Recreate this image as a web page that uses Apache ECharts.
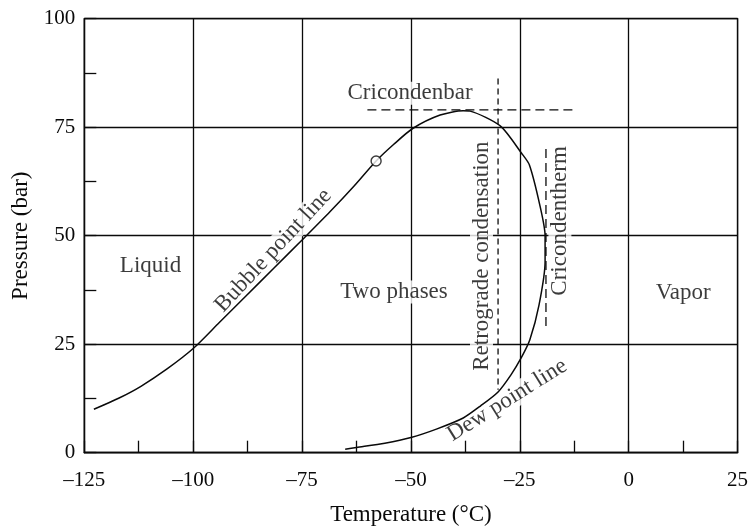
<!DOCTYPE html>
<html>
<head>
<meta charset="utf-8">
<script src="https://cdn.jsdelivr.net/npm/echarts@6/dist/echarts.min.js"></script>
<style>
  html, body { margin: 0; padding: 0; background: #fff; }
  #chart { width: 753px; height: 527px; }
</style>
</head>
<body>
<div id="chart"></div>
<script>
// phase envelope: bubble point line -> cricondenbar -> dew point line
const envelope = [
  [-122.8, 10], [-117, 12.6], [-112, 15.3], [-106, 19.3], [-100, 24], [-94, 30],
  [-88, 36], [-81.5, 42.5], [-75, 49], [-68.6, 55.5], [-63, 61.5], [-58, 67.2],
  [-54, 71], [-49.6, 74.7], [-43.3, 77.8], [-38, 78.8], [-36.4, 78.7], [-29.5, 75.3],
  [-24.6, 69], [-22.8, 66.3], [-20.4, 57], [-19.2, 50], [-19.2, 44], [-20.6, 34],
  [-22.7, 26], [-24.6, 22], [-27, 18], [-30, 14], [-34, 10.8], [-38, 8],
  [-44, 5.5], [-50, 3.5], [-56, 2.2], [-62.5, 1.2], [-65.1, 0.8]
];
const criticalPoint = [[-58, 67.2]];
const cricondenbar = [[-60, 79], [-12, 79]];
const retrograde = [[-30, 86.2], [-30, 14.5]];
const cricondentherm = [[-19, 70], [-19, 29]];

const xTicks = [-125, -100, -75, -50, -25, 0, 25];
const yTicks = [0, 25, 50, 75, 100];

const labels = [
  { name: 'Cricondenbar', value: [-50.2, 82.8], rot: 0 },
  { name: 'Liquid', value: [-109.8, 43], rot: 0 },
  { name: 'Bubble point line', value: [-81.6, 46.6], rot: 47 },
  { name: 'Two phases', value: [-53.9, 37], rot: 0 },
  { name: 'Vapor', value: [12.5, 36.8], rot: 0 },
  { name: 'Retrograde condensation', value: [-33.8, 45.3], rot: 90 },
  { name: 'Cricondentherm', value: [-15.8, 53.4], rot: 90 },
  { name: 'Dew point line', value: [-27.9, 12.1], rot: 32 }
];

const ink = '#0a0a0a';
const font = 'Liberation Serif';
const dash = (data, pattern) => ({
  type: 'line', data: data, symbol: 'none', silent: true,
  lineStyle: { color: ink, width: 1.3, type: pattern }
});

const chart = echarts.init(document.getElementById('chart'));
chart.setOption({
  animation: false,
  textStyle: { fontFamily: font },
  grid: {
    left: 84.3, right: 15.4, top: 18.7, bottom: 74.3, outerBoundsMode: 'none',
    show: true, borderColor: ink, borderWidth: 1.3
  },
  xAxis: {
    type: 'value', min: xTicks[0], max: xTicks[xTicks.length - 1], interval: 25,
    name: 'Temperature (°C)', nameLocation: 'middle', nameGap: 51,
    nameTextStyle: { color: ink, fontSize: 23, fontFamily: font },
    axisLine: { onZero: false, lineStyle: { color: ink, width: 1.3 } },
    axisTick: { show: true, inside: true, length: 12, lineStyle: { color: ink, width: 1.3 } },
    minorTick: { show: true, splitNumber: 2, length: 12, lineStyle: { color: ink, width: 1.3 } },
    splitLine: { show: true, lineStyle: { color: ink, width: 1.3 } },
    axisLabel: { color: ink, fontSize: 21, fontFamily: font, margin: 17,
      formatter: v => String(v).replace('-', '\u2013') }
  },
  yAxis: {
    type: 'value', min: yTicks[0], max: yTicks[yTicks.length - 1], interval: 25,
    name: 'Pressure (bar)', nameLocation: 'middle', nameGap: 46,
    nameTextStyle: { color: ink, fontSize: 23, fontFamily: font },
    axisLine: { show: true, onZero: false, lineStyle: { color: ink, width: 1.3 } },
    axisTick: { show: true, inside: true, length: 12, lineStyle: { color: ink, width: 1.3 } },
    minorTick: { show: true, splitNumber: 2, length: 12, lineStyle: { color: ink, width: 1.3 } },
    splitLine: { show: true, lineStyle: { color: ink, width: 1.3 } },
    axisLabel: { color: ink, fontSize: 21, fontFamily: font, margin: 9 }
  },
  series: [
    dash(cricondenbar, [9, 5]),
    dash(retrograde, [6, 4]),
    dash(cricondentherm, [9, 5]),
    {
      type: 'scatter', data: labels, symbolSize: 0, silent: true, z: 3,
      label: {
        show: true, position: 'inside', color: ink, fontSize: 23, fontFamily: font,
        backgroundColor: '#fff', padding: [0, 3],
        formatter: p => p.name
      },
      labelLayout: p => ({ rotate: labels[p.dataIndex].rot })
    },
    {
      type: 'line', data: envelope, symbol: 'none', silent: true, z: 4, smooth: 0.25,
      lineStyle: { color: ink, width: 1.5 }
    },
    {
      type: 'scatter', data: criticalPoint, symbol: 'circle', symbolSize: 10, z: 5,
      itemStyle: { color: '#fff', borderColor: ink, borderWidth: 1.4 }
    }
  ]
});
</script>
</body>
</html>
